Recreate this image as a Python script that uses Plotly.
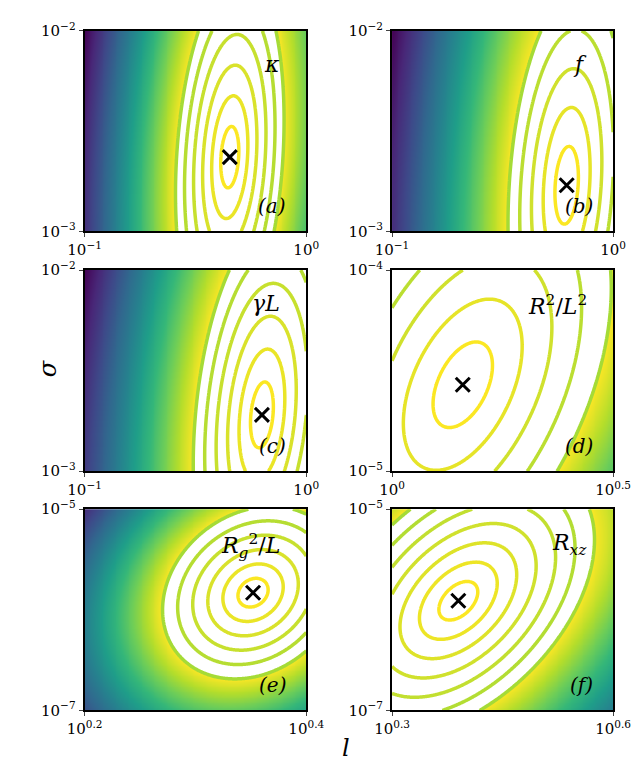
import numpy as np
import plotly.graph_objects as go

# panel definitions (log10 ranges)
labels = ["(a)", "(b)", "(c)", "(d)", "(e)", "(f)"]
names = ["<i>κ</i>", "<i>f</i>", "<i>γL</i>", "<i>R</i><sup>2</sup>/<i>L</i><sup>2</sup>",
         "<i>R</i><sub><i>g</i></sub><sup>2</sup>/<i>L</i>", "<i>R<sub>xz</sub></i>"]
x_lo = [-1, -1, -1, 0.0, 0.2, 0.3]
x_hi = [0, 0, 0, 0.5, 0.4, 0.6]
y_lo = [-3, -3, -3, -5, -7, -7]
y_hi = [-2, -2, -2, -4, -5, -5]
x_tick_lo = ["10<sup>−1</sup>", "10<sup>−1</sup>", "10<sup>−1</sup>", "10<sup>0</sup>", "10<sup>0.2</sup>", "10<sup>0.3</sup>"]
x_tick_hi = ["10<sup>0</sup>", "10<sup>0</sup>", "10<sup>0</sup>", "10<sup>0.5</sup>", "10<sup>0.4</sup>", "10<sup>0.6</sup>"]
y_tick_lo = ["10<sup>−3</sup>", "10<sup>−3</sup>", "10<sup>−3</sup>", "10<sup>−5</sup>", "10<sup>−7</sup>", "10<sup>−7</sup>"]
y_tick_hi = ["10<sup>−2</sup>", "10<sup>−2</sup>", "10<sup>−2</sup>", "10<sup>−4</sup>", "10<sup>−5</sup>", "10<sup>−5</sup>"]
# optimum (log10 l, log10 sigma)
opt_lx = [-0.345, -0.21, -0.20, 0.16, 0.352, 0.39]
opt_ly = [-2.63, -2.77, -2.72, -4.57, -5.83, -5.91]
# outer contour half-width / half-height (fraction of panel) and tilt
outer_w = [0.24, 0.26, 0.3, 0.6, 0.4, 0.55]
outer_h = [0.9, 0.95, 0.95, 0.95, 0.42, 0.6]
shape_k = [-0.4, -0.4, -0.5, -0.9, -0.4, -0.9]
n_lines = [6, 5, 6, 5, 6, 7]

cols = [(0.097, 0.464), (0.606, 0.972)]
rows = [(0.715, 0.984), (0.393, 0.663), (0.072, 0.342)]

fig = go.Figure()
for i in range(6):
    r, c = divmod(i, 2)
    ax = "" if i == 0 else str(i + 1)
    lx = np.linspace(x_lo[i], x_hi[i], 240)
    ly = np.linspace(y_lo[i], y_hi[i], 240)
    U = (lx - x_lo[i]) / (x_hi[i] - x_lo[i])
    V = (ly - y_lo[i]) / (y_hi[i] - y_lo[i])
    u0 = (opt_lx[i] - x_lo[i]) / (x_hi[i] - x_lo[i])
    v0 = (opt_ly[i] - y_lo[i]) / (y_hi[i] - y_lo[i])
    UU, VV = np.meshgrid(U, V)
    du = (UU - u0) / outer_w[i]
    dv = (VV - v0) / outer_h[i]
    rr = np.sqrt(du ** 2 + dv ** 2 + shape_k[i] * du * dv)
    step = 1.0 / n_lines[i]
    zh = np.where(rr > 1.0, -rr, np.nan)
    X = 10 ** lx
    Y = 10 ** ly
    fig.add_trace(go.Heatmap(x=X, y=Y, z=zh, colorscale="Viridis", showscale=False,
                             zmax=-1.0, zmin=min(np.nanmin(zh), -2.5),
                             xaxis="x" + ax, yaxis="y" + ax, hoverinfo="skip"))
    fig.add_trace(go.Contour(x=X, y=Y, z=rr, showscale=False,
                             contours=dict(start=step, end=1.0 + 1e-6, size=step, coloring="lines"),
                             colorscale=[[0, "#fbe723"], [1, "#a5db36"]],
                             line=dict(width=3.5), xaxis="x" + ax, yaxis="y" + ax,
                             hoverinfo="skip"))
    fig.add_trace(go.Scatter(x=[10 ** opt_lx[i]], y=[10 ** opt_ly[i]], mode="markers",
                             marker=dict(symbol="x-thin", size=14, line=dict(width=3, color="black")),
                             xaxis="x" + ax, yaxis="y" + ax, showlegend=False))
    common = dict(type="log", showgrid=False, zeroline=False, mirror=True, showline=True,
                  linecolor="black", linewidth=2, ticks="outside", ticklen=4,
                  tickfont=dict(size=15, family="DejaVu Serif", color="black"))
    fig.layout["xaxis" + ax] = dict(common, domain=cols[c], range=[x_lo[i], x_hi[i]],
                                    tickvals=[10 ** x_lo[i], 10 ** x_hi[i]],
                                    ticktext=[x_tick_lo[i], x_tick_hi[i]],
                                    anchor="y" + ax)
    fig.layout["yaxis" + ax] = dict(common, domain=rows[r], range=[y_lo[i], y_hi[i]],
                                    tickvals=[10 ** y_lo[i], 10 ** y_hi[i]],
                                    ticktext=[y_tick_lo[i], y_tick_hi[i]],
                                    anchor="x" + ax)
    xd, yd = cols[c], rows[r]
    fig.add_annotation(x=xd[1] - 0.03, y=yd[0] + 0.015, xref="paper", yref="paper",
                       text="<i>" + labels[i] + "</i>", showarrow=False, xanchor="right",
                       yanchor="bottom", font=dict(size=20, family="DejaVu Serif", color="black"))
    fig.add_annotation(x=xd[1] - 0.04, y=yd[1] - 0.025, xref="paper", yref="paper",
                       text=names[i], showarrow=False, xanchor="right", yanchor="top",
                       font=dict(size=22, family="DejaVu Serif", color="black"))

fig.add_annotation(x=0.01, y=0.53, xref="paper", yref="paper", text="<i>σ</i>", showarrow=False,
                   textangle=-90, font=dict(size=24, family="DejaVu Serif", color="black"))
fig.add_annotation(x=0.53, y=0.0, xref="paper", yref="paper", text="<i>l</i>", showarrow=False,
                   yanchor="bottom", font=dict(size=24, family="DejaVu Serif", color="black"))
fig.update_layout(width=640, height=765, margin=dict(l=0, r=0, t=0, b=0),
                  plot_bgcolor="white", paper_bgcolor="white", showlegend=False)
fig.write_html("out.html")
